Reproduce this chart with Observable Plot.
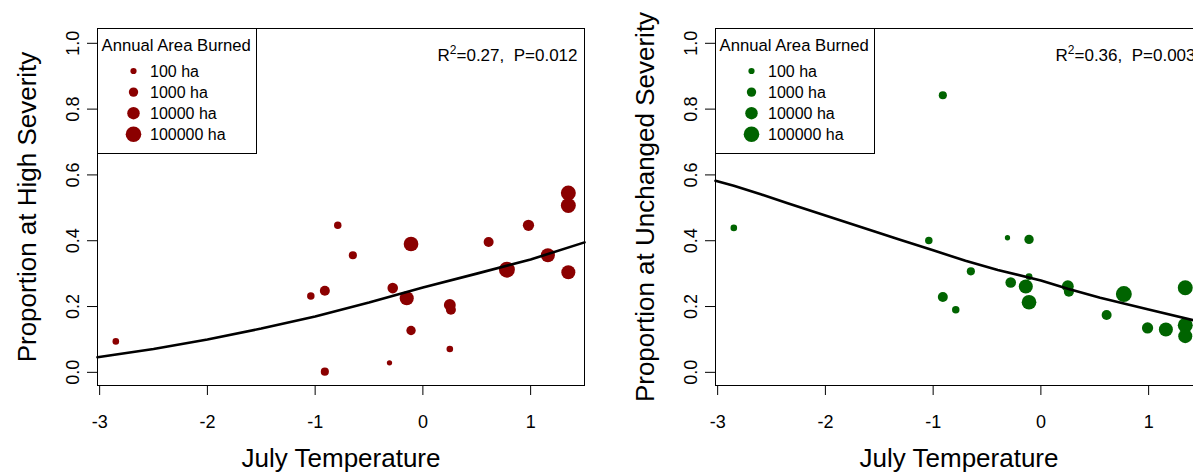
<!DOCTYPE html>
<html>
<head>
<meta charset="utf-8">
<script src="https://cdn.jsdelivr.net/npm/d3@7"></script>
<script src="https://cdn.jsdelivr.net/npm/@observablehq/plot@0.6"></script>
<style>
  html, body { margin: 0; padding: 0; background: #fff; }
  #wrap { position: relative; width: 1193px; height: 473px; overflow: hidden; background: #fff; }
  #wrap svg { position: absolute; top: 0; }
</style>
</head>
<body>
<div id="wrap"></div>
<script>
// ---------- data ----------
const xTicks = [-3, -2, -1, 0, 1];
const yTicks = [0, 0.2, 0.4, 0.6, 0.8, 1.0];
const xTitle = "July Temperature";
const legendTitle = "Annual Area Burned";
const legendAreas = [100, 1000, 10000, 100000];
const legendLabels = ["100 ha", "1000 ha", "10000 ha", "100000 ha"];

// Panel 1: proportion at high severity
const highTemp = [-2.85, -1.04, -0.91, -0.91, -0.79, -0.65, -0.31, -0.28, -0.11, -0.15, -0.11, 0.25, 0.26, 0.25, 0.61, 0.78, 0.98, 1.16, 1.35, 1.35, 1.35];
const highProp = [0.094, 0.232, 0.248, 0.002, 0.447, 0.356, 0.029, 0.256, 0.390, 0.225, 0.127, 0.205, 0.190, 0.071, 0.396, 0.312, 0.447, 0.356, 0.545, 0.507, 0.304];
const highArea = [130, 250, 1600, 400, 250, 400, 50, 2500, 50000, 32000, 1000, 6300, 1600, 130, 1600, 126000, 4000, 32000, 63000, 63000, 32000];
const highFitTemp = [-3.02, -2.5, -2, -1.5, -1, -0.5, 0, 0.5, 1, 1.5];
const highFitProp = [0.046, 0.071, 0.100, 0.133, 0.170, 0.212, 0.258, 0.300, 0.343, 0.395];

// Panel 2: proportion at unchanged severity
const unchTemp = [-2.85, -0.91, -1.04, -0.91, -0.79, -0.65, -0.31, -0.28, -0.11, -0.11, -0.14, -0.11, 0.25, 0.26, 0.61, 0.77, 0.99, 1.16, 1.34, 1.34, 1.34];
const unchProp = [0.439, 0.842, 0.401, 0.229, 0.190, 0.307, 0.409, 0.273, 0.404, 0.291, 0.261, 0.213, 0.262, 0.245, 0.174, 0.238, 0.135, 0.130, 0.257, 0.143, 0.110];
const unchArea = [130, 400, 250, 1600, 250, 400, 50, 2500, 1000, 160, 32000, 50000, 6300, 1600, 1600, 126000, 4000, 32000, 63000, 63000, 32000];
const unchFitTemp = [-3.02, -2.85, -2.6, -2.35, -2, -1.6, -1.3, -1, -0.7, -0.4, 0, 0.25, 0.55, 1, 1.42, 1.5];
const unchFitProp = [0.582, 0.567, 0.541, 0.514, 0.477, 0.434, 0.402, 0.371, 0.339, 0.311, 0.279, 0.254, 0.227, 0.191, 0.158, 0.152];

const panelYLabels = ["Proportion at High Severity", "Proportion at Unchanged Severity"];
const panelColors = ["#8b0000", "#006400"];
const panelR2 = ["0.27", "0.36"];
const panelP = ["0.012", "0.003"];

// ---------- drawing ----------
const FONT = "'Liberation Sans', Arial, Helvetica, sans-serif";

function panel(temp, prop, area, fitTemp, fitProp, color, yLabel, r2, p) {
  const pts = temp.map((t, i) => ({t, p: prop[i], a: area[i]}));
  const fit = fitTemp.map((t, i) => ({t, p: fitProp[i]}));
  const chart = Plot.plot({
    width: 618, height: 473,
    marginLeft: 97, marginRight: 34, marginTop: 28, marginBottom: 88,
    style: {fontFamily: FONT, background: "white", overflow: "visible", color: "black"},
    x: {domain: [-3.02, 1.5]},
    y: {domain: [-0.04, 1.045]},
    r: {type: "linear", domain: [0, 5], range: [0, 7.8]},
    marks: [
      Plot.dot(pts, {x: "t", y: "p", r: d => Math.log10(d.a), fill: color}),
      Plot.line(fit, {x: "t", y: "p", stroke: "black", strokeWidth: 2.6}),
      Plot.frame({stroke: "black", strokeWidth: 1}),
      Plot.axisX({ticks: xTicks, tickSize: 10, tickPadding: 20, fontSize: 18, label: null, tickFormat: d => String(d)}),
      Plot.axisY({ticks: yTicks, tickSize: 10, tickPadding: 9, tickRotate: -90, fontSize: 18, label: null, tickFormat: d => d.toFixed(1)}),
      Plot.text([xTitle], {text: d => d, frameAnchor: "bottom", dy: 73, fontSize: 26, lineAnchor: "middle", textAnchor: "middle"}),
      Plot.text([yLabel], {text: d => d, frameAnchor: "left", dx: -70, rotate: -90, fontSize: 26, lineAnchor: "middle", textAnchor: "middle"})
    ]
  });

  const rs = chart.scale("r");
  const g = d3.select(chart).append("g").attr("font-family", FONT).attr("fill", "black").attr("text-anchor", "start");
  // legend box
  g.append("rect").attr("x", 97.5).attr("y", 28.5).attr("width", 159).attr("height", 125)
    .attr("fill", "white").attr("stroke", "black").attr("stroke-width", 1);
  g.append("text").attr("x", 101.5).attr("y", 50.5).attr("font-size", 16.7).text(legendTitle);
  legendAreas.forEach((a, i) => {
    const cy = 71 + i * 21.1;
    g.append("circle").attr("cx", 133.5).attr("cy", cy).attr("r", rs.apply(Math.log10(a))).attr("fill", color);
    g.append("text").attr("x", 150).attr("y", cy).attr("dy", "0.36em").attr("font-size", 16).text(legendLabels[i]);
  });
  // statistics
  const st = g.append("text").attr("x", 577.5).attr("y", 61).attr("text-anchor", "end").attr("font-size", 17);
  st.append("tspan").text("R");
  st.append("tspan").attr("dy", -7).attr("font-size", 12).text("2");
  st.append("tspan").attr("dy", 7).text("=" + r2 + ",\u00a0\u00a0P=" + p);
  return chart;
}

const wrap = document.getElementById("wrap");
const c1 = panel(highTemp, highProp, highArea, highFitTemp, highFitProp, panelColors[0], panelYLabels[0], panelR2[0], panelP[0]);
c1.style.left = "0px";
wrap.appendChild(c1);
const c2 = panel(unchTemp, unchProp, unchArea, unchFitTemp, unchFitProp, panelColors[1], panelYLabels[1], panelR2[1], panelP[1]);
c2.style.left = "618px";
wrap.appendChild(c2);
</script>
</body>
</html>
